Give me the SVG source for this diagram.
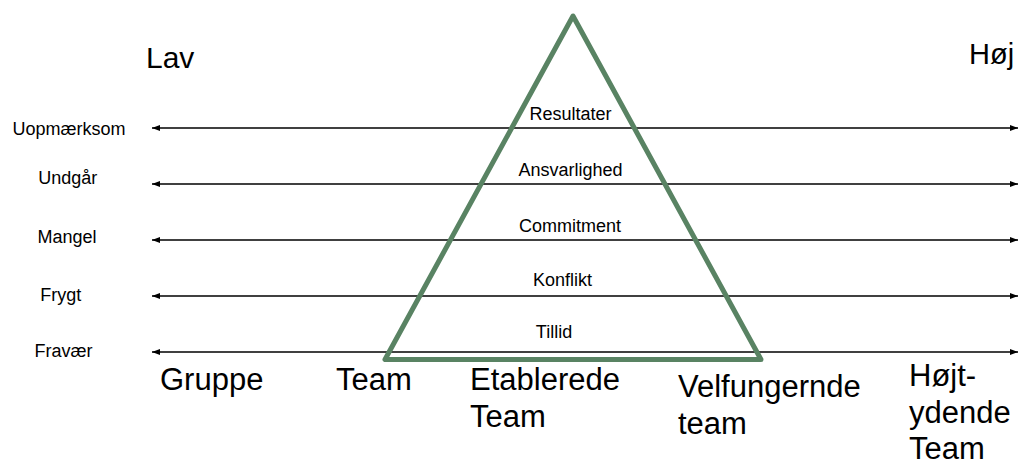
<svg xmlns="http://www.w3.org/2000/svg" width="1018" height="466" viewBox="0 0 1018 466">
<defs>
<marker id="ah" viewBox="0 0 8 6" refX="8" refY="3" markerWidth="8" markerHeight="6" markerUnits="userSpaceOnUse" orient="auto-start-reverse">
<path d="M0,0 L8,3 L0,6 Z" fill="#000"/>
</marker>
<style>
text{font-family:"Liberation Sans",Arial,sans-serif;fill:#000}
.m{font-size:18px;text-anchor:middle}
.b{font-size:31px}
.ax{stroke:#000;stroke-width:1.5;fill:none;marker-start:url(#ah);marker-end:url(#ah)}
.tri{fill:none;stroke:#598363;stroke-width:5;stroke-linejoin:round}
</style>
</defs>
<rect width="1018" height="466" fill="#fff"/>
<g id="connectors">
<line class="ax" x1="152" y1="128" x2="1018" y2="128"/>
<line class="ax" x1="152" y1="184" x2="1018" y2="184"/>
<line class="ax" x1="152" y1="240" x2="1018" y2="240"/>
<line class="ax" x1="152" y1="296" x2="1018" y2="296"/>
<line class="ax" x1="152" y1="352" x2="1018" y2="352"/>
</g>
<g id="pyramid">
<polygon class="tri" points="573,16 385,359.5 761,359.5"/>
</g>
<g id="levels">
<text class="m" x="570.5" y="120">Resultater</text>
<text class="m" x="570.5" y="176">Ansvarlighed</text>
<text class="m" x="570" y="232">Commitment</text>
<text class="m" x="562.5" y="286">Konflikt</text>
<text class="m" x="554" y="338">Tillid</text>
</g>
<g id="dysfunctions">
<text class="m" x="69" y="135">Uopmærksom</text>
<text class="m" x="67.7" y="184">Undgår</text>
<text class="m" x="67" y="243">Mangel</text>
<text class="m" x="60.7" y="301">Frygt</text>
<text class="m" x="63.5" y="357">Fravær</text>
</g>
<g id="scale">
<text class="b" x="146" y="68" style="font-size:30px">Lav</text>
<text class="b" x="969" y="64" style="font-size:29px">Høj</text>
</g>
<g id="stages">
<text class="b" x="160" y="390">Gruppe</text>
<text class="b" x="336" y="390">Team</text>
<text class="b" x="470" y="390">Etablerede<tspan x="470" y="427">Team</tspan></text>
<text class="b" x="678" y="397">Velfungernde<tspan x="678" y="434">team</tspan></text>
<text class="b" x="909" y="386">Højt-<tspan x="909" y="423">ydende</tspan><tspan x="909" y="459">Team</tspan></text>
</g>
</svg>
